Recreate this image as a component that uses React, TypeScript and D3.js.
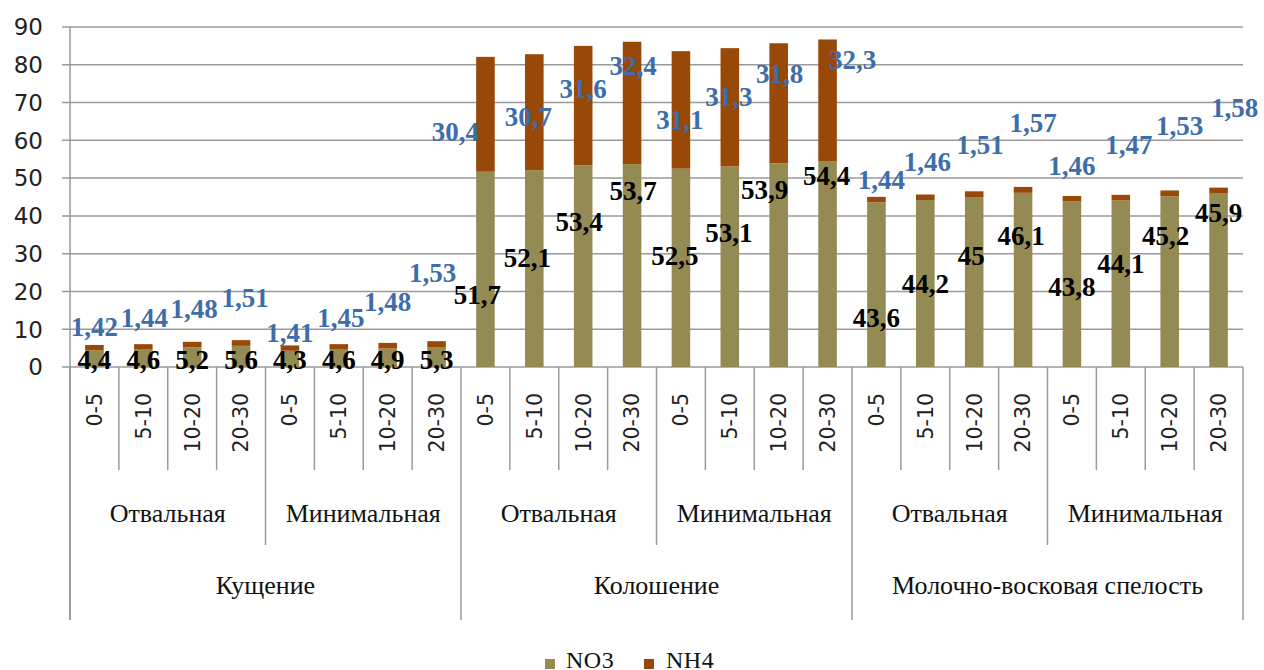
import React from "react";
import * as d3 from "d3";

const stages = ["Кущение", "Колошение", "Молочно-восковая спелость"];
const methods = ["Отвальная", "Минимальная"];
const depths = ["0-5", "5-10", "10-20", "20-30"];

const no3 = [4.4, 4.6, 5.2, 5.6, 4.3, 4.6, 4.9, 5.3, 51.7, 52.1, 53.4, 53.7, 52.5, 53.1, 53.9, 54.4, 43.6, 44.2, 45, 46.1, 43.8, 44.1, 45.2, 45.9];
const nh4 = [1.42, 1.44, 1.48, 1.51, 1.41, 1.45, 1.48, 1.53, 30.4, 30.7, 31.6, 32.4, 31.1, 31.3, 31.8, 32.3, 1.44, 1.46, 1.51, 1.57, 1.46, 1.47, 1.53, 1.58];

const yTicks = [0, 10, 20, 30, 40, 50, 60, 70, 80, 90];

// label placement (manually moved labels in the original), in value units / px offsets
const no3LabelAt = [1.9, 1.9, 1.9, 1.9, 1.9, 1.9, 1.9, 1.9, 19.1, 28.9, 38.6, 46.6, 29.6, 35.7, 47.1, 50.6, 13.2, 22.2, 29.4, 34.7, 21.2, 27.3, 34.7, 41.0];
const no3LabelDx = [0, 0, 0, 0, 0, 0, 0, 0, -8, -7, -4, 1, -6, -1, -14, -1, 0, 0, -3, -2, 0, 0, -4, 0];
const nh4LabelAt = [10.6, 13.0, 15.6, 18.3, 9.0, 13.0, 17.2, 24.9, 62.2, 66.4, 73.6, 79.7, 65.4, 71.5, 77.6, 81.5, 49.5, 54.3, 59.0, 64.8, 53.2, 59.0, 63.8, 68.8];
const nh4LabelDx = [0, 1, 2, 4, 0, 2, 0, -4, -30, -6, 0, 1, -1, -1, 1, 25, 5, 2, 6, 10, 0, 8, 10, 16];

const C_NO3 = "#948A54";
const C_NH4 = "#984807";
const C_BLUE = "#3D6DAA";
const GRID = "#9a9a9a";
const SERIF = "'Liberation Serif', 'Times New Roman', 'DejaVu Serif', serif";
const SANS = "'DejaVu Sans', Verdana, sans-serif";

const fmt = (v: number) => String(v).replace(".", ",");

export default function App() {
  const W = 1264, H = 670;
  const left = 70, right = 1243, top = 27, zeroY = 367;

  const keys: string[] = [];
  stages.forEach((s, si) => methods.forEach((m, mi) => depths.forEach((d, di) => keys.push(`${si}|${mi}|${di}`))));

  const x = d3.scaleBand<string>().domain(keys).range([left, right]).padding(0);
  const y = d3.scaleLinear().domain([0, 90]).range([zeroY, top]);
  const bw = x.bandwidth();
  const barW = bw * 0.38;

  const stacked = d3.stack<any>().keys(["no3", "nh4"])(keys.map((k, i) => ({ key: k, no3: no3[i], nh4: nh4[i] })));

  const boundaries = d3.range(keys.length + 1);
  const sepBottom = (b: number) => (b % 8 === 0 ? 620 : b % 4 === 0 ? 545 : 470);
  const bx = (b: number) => left + b * bw;

  return (
    <svg width={W} height={H} style={{ position: "absolute", left: 0, top: 0, background: "#fff" }}>
      {yTicks.map((t) => (
        <g key={t}>
          <line x1={62} x2={right} y1={y(t)} y2={y(t)} stroke={GRID} strokeWidth={1.5} />
          <text x={43} y={y(t)} dy="0.36em" textAnchor="end" style={{ fontFamily: SANS }} fontSize={23} fill="#222">{t}</text>
        </g>
      ))}
      {stacked.map((layer, li) => (
        <g key={li} fill={li === 0 ? C_NO3 : C_NH4}>
          {layer.map((d, i) => (
            <rect key={i} x={(x(keys[i]) as number) + (bw - barW) / 2} width={barW} y={y(d[1])} height={y(d[0]) - y(d[1])} />
          ))}
        </g>
      ))}
      <line x1={left} x2={left} y1={top} y2={620} stroke={GRID} strokeWidth={1.5} />
      {boundaries.map((b) => (
        <line key={b} x1={bx(b)} x2={bx(b)} y1={zeroY} y2={sepBottom(b)} stroke={GRID} strokeWidth={1.5} />
      ))}
      {keys.map((k, i) => (
        <text key={k} transform={`translate(${(x(k) as number) + bw / 2},393) rotate(-90)`} dy="0.36em" textAnchor="end" style={{ fontFamily: SANS }} fontSize={20.5} fill="#222">
          {depths[i % 4]}
        </text>
      ))}
      {stages.map((s, si) => methods.map((m, mi) => (
        <text key={`${si}${mi}`} x={bx(si * 8 + mi * 4 + 2)} y={522} textAnchor="middle" style={{ fontFamily: SERIF }} fontSize={26} fill="#111">{m}</text>
      )))}
      {stages.map((s, si) => (
        <text key={s} x={bx(si * 8 + 4)} y={594} textAnchor="middle" style={{ fontFamily: SERIF }} fontSize={26} fill="#111">{s}</text>
      ))}
      {keys.map((k, i) => (
        <text key={"n" + k} x={(x(k) as number) + bw / 2 + nh4LabelDx[i]} y={y(nh4LabelAt[i])} dy="0.35em" textAnchor="middle" style={{ fontFamily: SERIF }} fontWeight="bold" fontSize={27} fill={C_BLUE}>
          {fmt(nh4[i])}
        </text>
      ))}
      {keys.map((k, i) => (
        <text key={"o" + k} x={(x(k) as number) + bw / 2 + no3LabelDx[i]} y={y(no3LabelAt[i])} dy="0.35em" textAnchor="middle" style={{ fontFamily: SERIF }} fontWeight="bold" fontSize={27} fill="#000">
          {fmt(no3[i])}
        </text>
      ))}
      <rect x={545} y={659} width={10} height={10} fill={C_NO3} />
      <text x={566} y={668} style={{ fontFamily: SERIF }} fontSize={24} letterSpacing={0.5} fill="#111">NO3</text>
      <rect x={644} y={659} width={10} height={10} fill={C_NH4} />
      <text x={666} y={668} style={{ fontFamily: SERIF }} fontSize={24} letterSpacing={0.5} fill="#111">NH4</text>
    </svg>
  );
}
